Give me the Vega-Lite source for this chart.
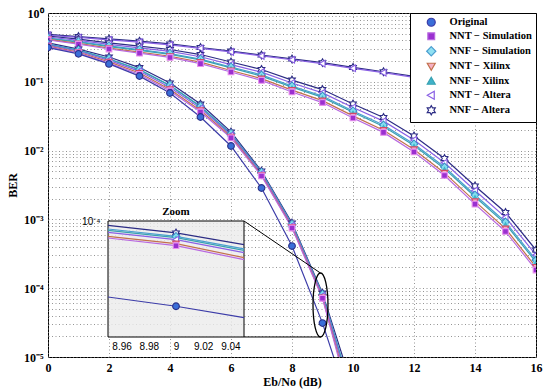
{
  "$schema": "https://vega.github.io/schema/vega-lite/v6.json",
  "width": 488,
  "height": 344,
  "autosize": {"type": "none"},
  "padding": {"left": 48, "top": 13, "right": 14, "bottom": 33},
  "background": "white",
  "config": {
    "font": "Liberation Serif",
    "view": {"stroke": "black", "strokeWidth": 1},
    "axis": {"labelFont": "Liberation Serif", "titleFont": "Liberation Serif", "labelFontWeight": "bold", "titleFontWeight": "bold", "labelColor": "black", "titleColor": "black", "labelFontSize": 12, "titleFontSize": 12, "domain": false, "ticks": false, "gridColor": "#7a7a7a", "gridDash": [1, 2.5], "gridWidth": 0.8, "gridOpacity": 1, "labelOverlap": false, "labelFlush": false, "labelBound": false}
  },
  "datasets": {
    "curves": [
      {"s": "NNF − Altera", "f": "T", "x": 0, "b": 0.49}, {"s": "NNF − Altera", "f": "T", "x": 1, "b": 0.455}, {"s": "NNF − Altera", "f": "T", "x": 2, "b": 0.42}, {"s": "NNF − Altera", "f": "T", "x": 3, "b": 0.39}, {"s": "NNF − Altera", "f": "T", "x": 4, "b": 0.355}, {"s": "NNF − Altera", "f": "T", "x": 5, "b": 0.315}, {"s": "NNF − Altera", "f": "T", "x": 6, "b": 0.28}, {"s": "NNF − Altera", "f": "T", "x": 7, "b": 0.245}, {"s": "NNF − Altera", "f": "T", "x": 8, "b": 0.215}, {"s": "NNF − Altera", "f": "T", "x": 9, "b": 0.19}, {"s": "NNF − Altera", "f": "T", "x": 10, "b": 0.162}, {"s": "NNF − Altera", "f": "T", "x": 11, "b": 0.14}, {"s": "NNF − Altera", "f": "T", "x": 12, "b": 0.12}, {"s": "NNF − Altera", "f": "T", "x": 13, "b": 0.102}, {"s": "NNF − Altera", "f": "T", "x": 14, "b": 0.086}, {"s": "NNF − Altera", "f": "T", "x": 15, "b": 0.072}, {"s": "NNF − Altera", "f": "T", "x": 16, "b": 0.058},
      {"s": "NNT − Altera", "f": "T", "x": 0, "b": 0.475}, {"s": "NNT − Altera", "f": "T", "x": 1, "b": 0.441}, {"s": "NNT − Altera", "f": "T", "x": 2, "b": 0.407}, {"s": "NNT − Altera", "f": "T", "x": 3, "b": 0.378}, {"s": "NNT − Altera", "f": "T", "x": 4, "b": 0.344}, {"s": "NNT − Altera", "f": "T", "x": 5, "b": 0.306}, {"s": "NNT − Altera", "f": "T", "x": 6, "b": 0.272}, {"s": "NNT − Altera", "f": "T", "x": 7, "b": 0.238}, {"s": "NNT − Altera", "f": "T", "x": 8, "b": 0.209}, {"s": "NNT − Altera", "f": "T", "x": 9, "b": 0.184}, {"s": "NNT − Altera", "f": "T", "x": 10, "b": 0.157}, {"s": "NNT − Altera", "f": "T", "x": 11, "b": 0.136}, {"s": "NNT − Altera", "f": "T", "x": 12, "b": 0.116}, {"s": "NNT − Altera", "f": "T", "x": 13, "b": 0.099}, {"s": "NNT − Altera", "f": "T", "x": 14, "b": 0.083}, {"s": "NNT − Altera", "f": "T", "x": 15, "b": 0.07}, {"s": "NNT − Altera", "f": "T", "x": 16, "b": 0.056},

      {"s": "NNF − Altera", "f": "M", "x": 0, "b": 0.463}, {"s": "NNF − Altera", "f": "M", "x": 1, "b": 0.416}, {"s": "NNF − Altera", "f": "M", "x": 2, "b": 0.367}, {"s": "NNF − Altera", "f": "M", "x": 3, "b": 0.329}, {"s": "NNF − Altera", "f": "M", "x": 4, "b": 0.295}, {"s": "NNF − Altera", "f": "M", "x": 5, "b": 0.249}, {"s": "NNF − Altera", "f": "M", "x": 6, "b": 0.194}, {"s": "NNF − Altera", "f": "M", "x": 7, "b": 0.151}, {"s": "NNF − Altera", "f": "M", "x": 8, "b": 0.106}, {"s": "NNF − Altera", "f": "M", "x": 9, "b": 0.0771}, {"s": "NNF − Altera", "f": "M", "x": 10, "b": 0.0477}, {"s": "NNF − Altera", "f": "M", "x": 11, "b": 0.0303}, {"s": "NNF − Altera", "f": "M", "x": 12, "b": 0.0163}, {"s": "NNF − Altera", "f": "M", "x": 13, "b": 0.00768}, {"s": "NNF − Altera", "f": "M", "x": 14, "b": 0.00306}, {"s": "NNF − Altera", "f": "M", "x": 15, "b": 0.00126}, {"s": "NNF − Altera", "f": "M", "x": 16, "b": 0.000359},
      {"s": "NNT − Altera", "f": "M", "x": 0, "b": 0.448}, {"s": "NNT − Altera", "f": "M", "x": 1, "b": 0.399}, {"s": "NNT − Altera", "f": "M", "x": 2, "b": 0.349}, {"s": "NNT − Altera", "f": "M", "x": 3, "b": 0.311}, {"s": "NNT − Altera", "f": "M", "x": 4, "b": 0.276}, {"s": "NNT − Altera", "f": "M", "x": 5, "b": 0.231}, {"s": "NNT − Altera", "f": "M", "x": 6, "b": 0.178}, {"s": "NNT − Altera", "f": "M", "x": 7, "b": 0.138}, {"s": "NNT − Altera", "f": "M", "x": 8, "b": 0.0961}, {"s": "NNT − Altera", "f": "M", "x": 9, "b": 0.0691}, {"s": "NNT − Altera", "f": "M", "x": 10, "b": 0.0424}, {"s": "NNT − Altera", "f": "M", "x": 11, "b": 0.0268}, {"s": "NNT − Altera", "f": "M", "x": 12, "b": 0.0143}, {"s": "NNT − Altera", "f": "M", "x": 13, "b": 0.00666}, {"s": "NNT − Altera", "f": "M", "x": 14, "b": 0.00263}, {"s": "NNT − Altera", "f": "M", "x": 15, "b": 0.00107}, {"s": "NNT − Altera", "f": "M", "x": 16, "b": 0.000304},
      {"s": "NNF − Simulation", "f": "M", "x": 0, "b": 0.433}, {"s": "NNF − Simulation", "f": "M", "x": 1, "b": 0.383}, {"s": "NNF − Simulation", "f": "M", "x": 2, "b": 0.332}, {"s": "NNF − Simulation", "f": "M", "x": 3, "b": 0.293}, {"s": "NNF − Simulation", "f": "M", "x": 4, "b": 0.258}, {"s": "NNF − Simulation", "f": "M", "x": 5, "b": 0.214}, {"s": "NNF − Simulation", "f": "M", "x": 6, "b": 0.164}, {"s": "NNF − Simulation", "f": "M", "x": 7, "b": 0.126}, {"s": "NNF − Simulation", "f": "M", "x": 8, "b": 0.087}, {"s": "NNF − Simulation", "f": "M", "x": 9, "b": 0.062}, {"s": "NNF − Simulation", "f": "M", "x": 10, "b": 0.0377}, {"s": "NNF − Simulation", "f": "M", "x": 11, "b": 0.0236}, {"s": "NNF − Simulation", "f": "M", "x": 12, "b": 0.0125}, {"s": "NNF − Simulation", "f": "M", "x": 13, "b": 0.00578}, {"s": "NNF − Simulation", "f": "M", "x": 14, "b": 0.00226}, {"s": "NNF − Simulation", "f": "M", "x": 15, "b": 0.000917}, {"s": "NNF − Simulation", "f": "M", "x": 16, "b": 0.000257},
      {"s": "NNF − Xilinx", "f": "M", "x": 0, "b": 0.427}, {"s": "NNF − Xilinx", "f": "M", "x": 1, "b": 0.376}, {"s": "NNF − Xilinx", "f": "M", "x": 2, "b": 0.325}, {"s": "NNF − Xilinx", "f": "M", "x": 3, "b": 0.286}, {"s": "NNF − Xilinx", "f": "M", "x": 4, "b": 0.251}, {"s": "NNF − Xilinx", "f": "M", "x": 5, "b": 0.208}, {"s": "NNF − Xilinx", "f": "M", "x": 6, "b": 0.159}, {"s": "NNF − Xilinx", "f": "M", "x": 7, "b": 0.121}, {"s": "NNF − Xilinx", "f": "M", "x": 8, "b": 0.0836}, {"s": "NNF − Xilinx", "f": "M", "x": 9, "b": 0.0594}, {"s": "NNF − Xilinx", "f": "M", "x": 10, "b": 0.036}, {"s": "NNF − Xilinx", "f": "M", "x": 11, "b": 0.0224}, {"s": "NNF − Xilinx", "f": "M", "x": 12, "b": 0.0119}, {"s": "NNF − Xilinx", "f": "M", "x": 13, "b": 0.00546}, {"s": "NNF − Xilinx", "f": "M", "x": 14, "b": 0.00213}, {"s": "NNF − Xilinx", "f": "M", "x": 15, "b": 0.000861}, {"s": "NNF − Xilinx", "f": "M", "x": 16, "b": 0.00024},
      {"s": "NNT − Xilinx", "f": "M", "x": 0, "b": 0.413}, {"s": "NNT − Xilinx", "f": "M", "x": 1, "b": 0.361}, {"s": "NNT − Xilinx", "f": "M", "x": 2, "b": 0.309}, {"s": "NNT − Xilinx", "f": "M", "x": 3, "b": 0.27}, {"s": "NNT − Xilinx", "f": "M", "x": 4, "b": 0.235}, {"s": "NNT − Xilinx", "f": "M", "x": 5, "b": 0.193}, {"s": "NNT − Xilinx", "f": "M", "x": 6, "b": 0.146}, {"s": "NNT − Xilinx", "f": "M", "x": 7, "b": 0.111}, {"s": "NNT − Xilinx", "f": "M", "x": 8, "b": 0.0756}, {"s": "NNT − Xilinx", "f": "M", "x": 9, "b": 0.0533}, {"s": "NNT − Xilinx", "f": "M", "x": 10, "b": 0.032}, {"s": "NNT − Xilinx", "f": "M", "x": 11, "b": 0.0198}, {"s": "NNT − Xilinx", "f": "M", "x": 12, "b": 0.0104}, {"s": "NNT − Xilinx", "f": "M", "x": 13, "b": 0.00474}, {"s": "NNT − Xilinx", "f": "M", "x": 14, "b": 0.00183}, {"s": "NNT − Xilinx", "f": "M", "x": 15, "b": 0.000735}, {"s": "NNT − Xilinx", "f": "M", "x": 16, "b": 0.000203},
      {"s": "NNT − Simulation", "f": "M", "x": 0, "b": 0.405}, {"s": "NNT − Simulation", "f": "M", "x": 1, "b": 0.352}, {"s": "NNT − Simulation", "f": "M", "x": 2, "b": 0.3}, {"s": "NNT − Simulation", "f": "M", "x": 3, "b": 0.261}, {"s": "NNT − Simulation", "f": "M", "x": 4, "b": 0.226}, {"s": "NNT − Simulation", "f": "M", "x": 5, "b": 0.184}, {"s": "NNT − Simulation", "f": "M", "x": 6, "b": 0.139}, {"s": "NNT − Simulation", "f": "M", "x": 7, "b": 0.105}, {"s": "NNT − Simulation", "f": "M", "x": 8, "b": 0.0712}, {"s": "NNT − Simulation", "f": "M", "x": 9, "b": 0.0499}, {"s": "NNT − Simulation", "f": "M", "x": 10, "b": 0.0298}, {"s": "NNT − Simulation", "f": "M", "x": 11, "b": 0.0184}, {"s": "NNT − Simulation", "f": "M", "x": 12, "b": 0.00956}, {"s": "NNT − Simulation", "f": "M", "x": 13, "b": 0.00435}, {"s": "NNT − Simulation", "f": "M", "x": 14, "b": 0.00167}, {"s": "NNT − Simulation", "f": "M", "x": 15, "b": 0.000668}, {"s": "NNT − Simulation", "f": "M", "x": 16, "b": 0.000184},

      {"s": "NNF − Altera", "f": "W", "x": 0, "b": 0.367}, {"s": "NNF − Altera", "f": "W", "x": 1, "b": 0.299}, {"s": "NNF − Altera", "f": "W", "x": 2, "b": 0.229}, {"s": "NNF − Altera", "f": "W", "x": 3, "b": 0.161}, {"s": "NNF − Altera", "f": "W", "x": 4, "b": 0.096}, {"s": "NNF − Altera", "f": "W", "x": 5, "b": 0.0475}, {"s": "NNF − Altera", "f": "W", "x": 6, "b": 0.0187}, {"s": "NNF − Altera", "f": "W", "x": 7, "b": 0.00505}, {"s": "NNF − Altera", "f": "W", "x": 8, "b": 0.000886}, {"s": "NNF − Altera", "f": "W", "x": 9, "b": 0.0000849}, {"s": "NNF − Altera", "f": "W", "x": 10, "b": 0.0000034},
      {"s": "NNF − Simulation", "f": "W", "x": 0, "b": 0.354}, {"s": "NNF − Simulation", "f": "W", "x": 1, "b": 0.289}, {"s": "NNF − Simulation", "f": "W", "x": 2, "b": 0.2165}, {"s": "NNF − Simulation", "f": "W", "x": 3, "b": 0.151}, {"s": "NNF − Simulation", "f": "W", "x": 4, "b": 0.0892}, {"s": "NNF − Simulation", "f": "W", "x": 5, "b": 0.0442}, {"s": "NNF − Simulation", "f": "W", "x": 6, "b": 0.0177}, {"s": "NNF − Simulation", "f": "W", "x": 7, "b": 0.00483}, {"s": "NNF − Simulation", "f": "W", "x": 8, "b": 0.000846}, {"s": "NNF − Simulation", "f": "W", "x": 9, "b": 0.000081}, {"s": "NNF − Simulation", "f": "W", "x": 10, "b": 0.0000027},
      {"s": "NNF − Xilinx", "f": "W", "x": 0, "b": 0.35}, {"s": "NNF − Xilinx", "f": "W", "x": 1, "b": 0.286}, {"s": "NNF − Xilinx", "f": "W", "x": 2, "b": 0.213}, {"s": "NNF − Xilinx", "f": "W", "x": 3, "b": 0.149}, {"s": "NNF − Xilinx", "f": "W", "x": 4, "b": 0.0874}, {"s": "NNF − Xilinx", "f": "W", "x": 5, "b": 0.0433}, {"s": "NNF − Xilinx", "f": "W", "x": 6, "b": 0.0174}, {"s": "NNF − Xilinx", "f": "W", "x": 7, "b": 0.00477}, {"s": "NNF − Xilinx", "f": "W", "x": 8, "b": 0.000835}, {"s": "NNF − Xilinx", "f": "W", "x": 9, "b": 0.0000796}, {"s": "NNF − Xilinx", "f": "W", "x": 10, "b": 0.0000025},
      {"s": "NNT − Altera", "f": "W", "x": 0, "b": 0.341}, {"s": "NNT − Altera", "f": "W", "x": 1, "b": 0.278}, {"s": "NNT − Altera", "f": "W", "x": 2, "b": 0.205}, {"s": "NNT − Altera", "f": "W", "x": 3, "b": 0.142}, {"s": "NNT − Altera", "f": "W", "x": 4, "b": 0.0829}, {"s": "NNT − Altera", "f": "W", "x": 5, "b": 0.0411}, {"s": "NNT − Altera", "f": "W", "x": 6, "b": 0.0167}, {"s": "NNT − Altera", "f": "W", "x": 7, "b": 0.00461}, {"s": "NNT − Altera", "f": "W", "x": 8, "b": 0.000808}, {"s": "NNT − Altera", "f": "W", "x": 9, "b": 0.0000774}, {"s": "NNT − Altera", "f": "W", "x": 10, "b": 0.0000022},
      {"s": "NNT − Xilinx", "f": "W", "x": 0, "b": 0.33}, {"s": "NNT − Xilinx", "f": "W", "x": 1, "b": 0.269}, {"s": "NNT − Xilinx", "f": "W", "x": 2, "b": 0.195}, {"s": "NNT − Xilinx", "f": "W", "x": 3, "b": 0.134}, {"s": "NNT − Xilinx", "f": "W", "x": 4, "b": 0.0775}, {"s": "NNT − Xilinx", "f": "W", "x": 5, "b": 0.0384}, {"s": "NNT − Xilinx", "f": "W", "x": 6, "b": 0.0159}, {"s": "NNT − Xilinx", "f": "W", "x": 7, "b": 0.00442}, {"s": "NNT − Xilinx", "f": "W", "x": 8, "b": 0.000775}, {"s": "NNT − Xilinx", "f": "W", "x": 9, "b": 0.0000733}, {"s": "NNT − Xilinx", "f": "W", "x": 10, "b": 0.0000018},
      {"s": "NNT − Simulation", "f": "W", "x": 0, "b": 0.321}, {"s": "NNT − Simulation", "f": "W", "x": 1, "b": 0.262}, {"s": "NNT − Simulation", "f": "W", "x": 2, "b": 0.187}, {"s": "NNT − Simulation", "f": "W", "x": 3, "b": 0.128}, {"s": "NNT − Simulation", "f": "W", "x": 4, "b": 0.0735}, {"s": "NNT − Simulation", "f": "W", "x": 5, "b": 0.0364}, {"s": "NNT − Simulation", "f": "W", "x": 6, "b": 0.0153}, {"s": "NNT − Simulation", "f": "W", "x": 7, "b": 0.00428}, {"s": "NNT − Simulation", "f": "W", "x": 8, "b": 0.00075}, {"s": "NNT − Simulation", "f": "W", "x": 9, "b": 0.0000713}, {"s": "NNT − Simulation", "f": "W", "x": 10, "b": 0.0000016},
      {"s": "Original", "f": "W", "x": 0, "b": 0.315}, {"s": "Original", "f": "W", "x": 1, "b": 0.255}, {"s": "Original", "f": "W", "x": 2, "b": 0.182}, {"s": "Original", "f": "W", "x": 3, "b": 0.121}, {"s": "Original", "f": "W", "x": 4, "b": 0.0687}, {"s": "Original", "f": "W", "x": 5, "b": 0.0308}, {"s": "Original", "f": "W", "x": 6, "b": 0.01167}, {"s": "Original", "f": "W", "x": 7, "b": 0.00286}, {"s": "Original", "f": "W", "x": 8, "b": 0.00041}, {"s": "Original", "f": "W", "x": 9, "b": 0.0000311}, {"s": "Original", "f": "W", "x": 10, "b": 0.0000014}
    ],
    "inset": [
      {"s": "NNF − Altera", "x": 8.95, "b": 0.0000942}, {"s": "NNF − Altera", "x": 9, "b": 0.0000849}, {"s": "NNF − Altera", "x": 9.05, "b": 0.0000723},
      {"s": "NNF − Simulation", "x": 8.95, "b": 0.0000896}, {"s": "NNF − Simulation", "x": 9, "b": 0.000081}, {"s": "NNF − Simulation", "x": 9.05, "b": 0.0000682},
      {"s": "NNF − Xilinx", "x": 8.95, "b": 0.000088}, {"s": "NNF − Xilinx", "x": 9, "b": 0.0000796}, {"s": "NNF − Xilinx", "x": 9.05, "b": 0.0000669},
      {"s": "NNT − Altera", "x": 8.95, "b": 0.0000856}, {"s": "NNT − Altera", "x": 9, "b": 0.0000774}, {"s": "NNT − Altera", "x": 9.05, "b": 0.0000648},
      {"s": "NNT − Xilinx", "x": 8.95, "b": 0.000081}, {"s": "NNT − Xilinx", "x": 9, "b": 0.0000733}, {"s": "NNT − Xilinx", "x": 9.05, "b": 0.0000605},
      {"s": "NNT − Simulation", "x": 8.95, "b": 0.0000792}, {"s": "NNT − Simulation", "x": 9, "b": 0.0000713}, {"s": "NNT − Simulation", "x": 9.05, "b": 0.0000589},
      {"s": "Original", "x": 8.95, "b": 0.0000353}, {"s": "Original", "x": 9, "b": 0.0000311}, {"s": "Original", "x": 9.05, "b": 0.0000266}
    ],
    "connectors": [
      {"x": 6.426, "b": 0.000948, "x2": 8.934, "b2": 0.000166},
      {"x": 6.426, "b": 0.00001954, "x2": 8.934, "b2": 0.00001954}
    ],
    "ellipse": [{"x": 8.934, "b": 0.000057}],
    "box": [{"x": 8.95, "x2": 9.05, "b": 0.0000204, "b2": 0.0001}],
    "zoomlabel": [{"x": 9.0, "b": 0.0001, "t": "Zoom"}]
  },
  "layer": [
    {
      "encoding": {
        "x": {"field": "x", "type": "quantitative", "scale": {"domain": [0, 16], "nice": false, "zero": false},
          "axis": {"values": [0, 2, 4, 6, 8, 10, 12, 14, 16], "title": "Eb/No (dB)", "labelPadding": 5, "titlePadding": 3, "grid": true}},
        "y": {"field": "b", "type": "quantitative", "scale": {"type": "log", "domain": [0.00001, 1], "nice": false},
          "axis": {"values": [0.00001, 0.00002, 0.00003, 0.00004, 0.00005, 0.00006, 0.00007, 0.00008, 0.00009, 0.0001, 0.0002, 0.0003, 0.0004, 0.0005, 0.0006, 0.0007, 0.0008, 0.0009, 0.001, 0.002, 0.003, 0.004, 0.005, 0.006, 0.007, 0.008, 0.009, 0.01, 0.02, 0.03, 0.04, 0.05, 0.06, 0.07, 0.08, 0.09, 0.1, 0.2, 0.3, 0.4, 0.5, 0.6, 0.7, 0.8, 0.9, 1],
            "labelExpr": "datum.value==1?'10⁰':datum.value==0.1?'10⁻¹':datum.value==0.01?'10⁻²':datum.value==0.001?'10⁻³':datum.value==0.0001?'10⁻⁴':datum.value==0.00001?'10⁻⁵':''",
            "title": "BER", "titlePadding": 4, "labelPadding": 5, "grid": true}}
      },
      "layer": [
        {
          "data": {"name": "curves"},
          "mark": {"type": "line", "clip": true, "strokeWidth": 1.2},
          "encoding": {
            "color": {"field": "s", "type": "nominal", "scale": {"domain": ["Original", "NNT − Simulation", "NNF − Simulation", "NNT − Xilinx", "NNF − Xilinx", "NNT − Altera", "NNF − Altera"], "range": ["#3c3ca8", "#b868e0", "#4a9ed0", "#c2704c", "#38a2b2", "#8a60e4", "#2c2c84"]}},
            "detail": {"field": "f"}
          }
        },
        {
          "data": {"name": "curves"},
          "mark": {"type": "point", "clip": true, "size": 45, "strokeWidth": 1.1, "opacity": 1},
          "encoding": {
            "shape": {"field": "s", "type": "nominal",
              "scale": {"domain": ["Original", "NNT − Simulation", "NNF − Simulation", "NNT − Xilinx", "NNF − Xilinx", "NNT − Altera", "NNF − Altera"],
                "range": ["M-1,0A1,1,0,1,1,1,0A1,1,0,1,1,-1,0Z", "M-0.85,-0.85H0.85V0.85H-0.85Z", "M0,-1.15L1.15,0L0,1.15L-1.15,0Z", "M-1,-0.75L1,-0.75L0,1Z", "M0,-1L1,0.75L-1,0.75Z", "M-1,0L0.75,-1L0.75,1Z", "M0,-1.15L0.33,-0.58L1,-0.58L0.66,0L1,0.58L0.33,0.58L0,1.15L-0.33,0.58L-1,0.58L-0.66,0L-1,-0.58L-0.33,-0.58Z"]},
              "legend": {"title": null, "orient": "top-right", "offset": 0, "padding": 4, "fillColor": "white", "strokeColor": "black", "cornerRadius": 0,
                "labelFont": "Liberation Serif", "labelFontWeight": "bold", "labelFontSize": 10.5, "labelColor": "black",
                "symbolSize": 64, "symbolOffset": 12, "labelOffset": 13, "rowPadding": 1, "symbolStrokeWidth": 1.2}},
            "fill": {"field": "s", "type": "nominal", "scale": {"domain": ["Original", "NNT − Simulation", "NNF − Simulation", "NNT − Xilinx", "NNF − Xilinx", "NNT − Altera", "NNF − Altera"], "range": ["#3a6ed8", "#9a30d0", "#90e0f2", "#f6b0c4", "#40b2ca", "#ffffff", "#ffffff"]}},
            "stroke": {"field": "s", "type": "nominal", "scale": {"domain": ["Original", "NNT − Simulation", "NNF − Simulation", "NNT − Xilinx", "NNF − Xilinx", "NNT − Altera", "NNF − Altera"], "range": ["#28308a", "#e890ee", "#3a8ec8", "#d24a66", "#7fe0ee", "#8a60e4", "#2c2c84"]}}
          }
        },
        {
          "data": {"name": "connectors"},
          "mark": {"type": "rule", "color": "black", "strokeWidth": 1},
          "encoding": {"x2": {"field": "x2"}, "y2": {"field": "b2"}}
        },
        {
          "data": {"name": "ellipse"},
          "mark": {"type": "point", "shape": "M0,-1A0.234,1,0,1,1,0,1A0.234,1,0,1,1,0,-1Z", "size": 4096, "stroke": "black", "strokeWidth": 1.3, "fill": "transparent", "opacity": 1},
          "encoding": {}
        }
      ]
    },
    {
      "encoding": {
        "x": {"field": "x", "type": "quantitative", "scale": {"domain": [8.95, 9.05], "range": [60, 196], "nice": false, "zero": false},
          "axis": {"orient": "bottom", "offset": -20, "values": [8.96, 8.98, 9, 9.02, 9.04], "format": "~g", "grid": false, "title": null, "labelFont": "Liberation Sans", "labelFontWeight": "normal", "labelFontSize": 10, "labelPadding": 4}},
        "y": {"field": "b", "type": "quantitative", "scale": {"type": "log", "domain": [0.0000204, 0.0001], "range": [324, 208], "nice": false},
          "axis": {"orient": "left", "offset": -60, "values": [0.0001], "labelExpr": "'10⁻⁴'", "grid": false, "title": null, "labelFont": "Liberation Sans", "labelFontWeight": "normal", "labelFontSize": 10, "labelPadding": 8}}
      },
      "layer": [
        {
          "data": {"name": "box"},
          "mark": {"type": "rect", "fill": "#ebebeb", "fillOpacity": 0.8, "stroke": "black", "strokeWidth": 1},
          "encoding": {"x2": {"field": "x2"}, "y2": {"field": "b2"}}
        },
        {
          "data": {"name": "inset"},
          "mark": {"type": "line", "strokeWidth": 1.2},
          "encoding": {
            "color": {"field": "s", "type": "nominal"}
          }
        },
        {
          "data": {"name": "inset"},
          "transform": [{"filter": "datum.x == 9"}],
          "mark": {"type": "point", "size": 45, "strokeWidth": 1.1, "opacity": 1},
          "encoding": {
            "shape": {"field": "s", "type": "nominal"},
            "fill": {"field": "s", "type": "nominal"},
            "stroke": {"field": "s", "type": "nominal"}
          }
        },
        {
          "data": {"name": "zoomlabel"},
          "mark": {"type": "text", "font": "Liberation Serif", "fontWeight": "bold", "fontSize": 11, "baseline": "bottom", "dy": -4, "color": "black"},
          "encoding": {"text": {"field": "t"}}
        }
      ]
    }
  ],
  "resolve": {"scale": {"x": "independent", "y": "independent"}, "axis": {"x": "independent", "y": "independent"}}
}
